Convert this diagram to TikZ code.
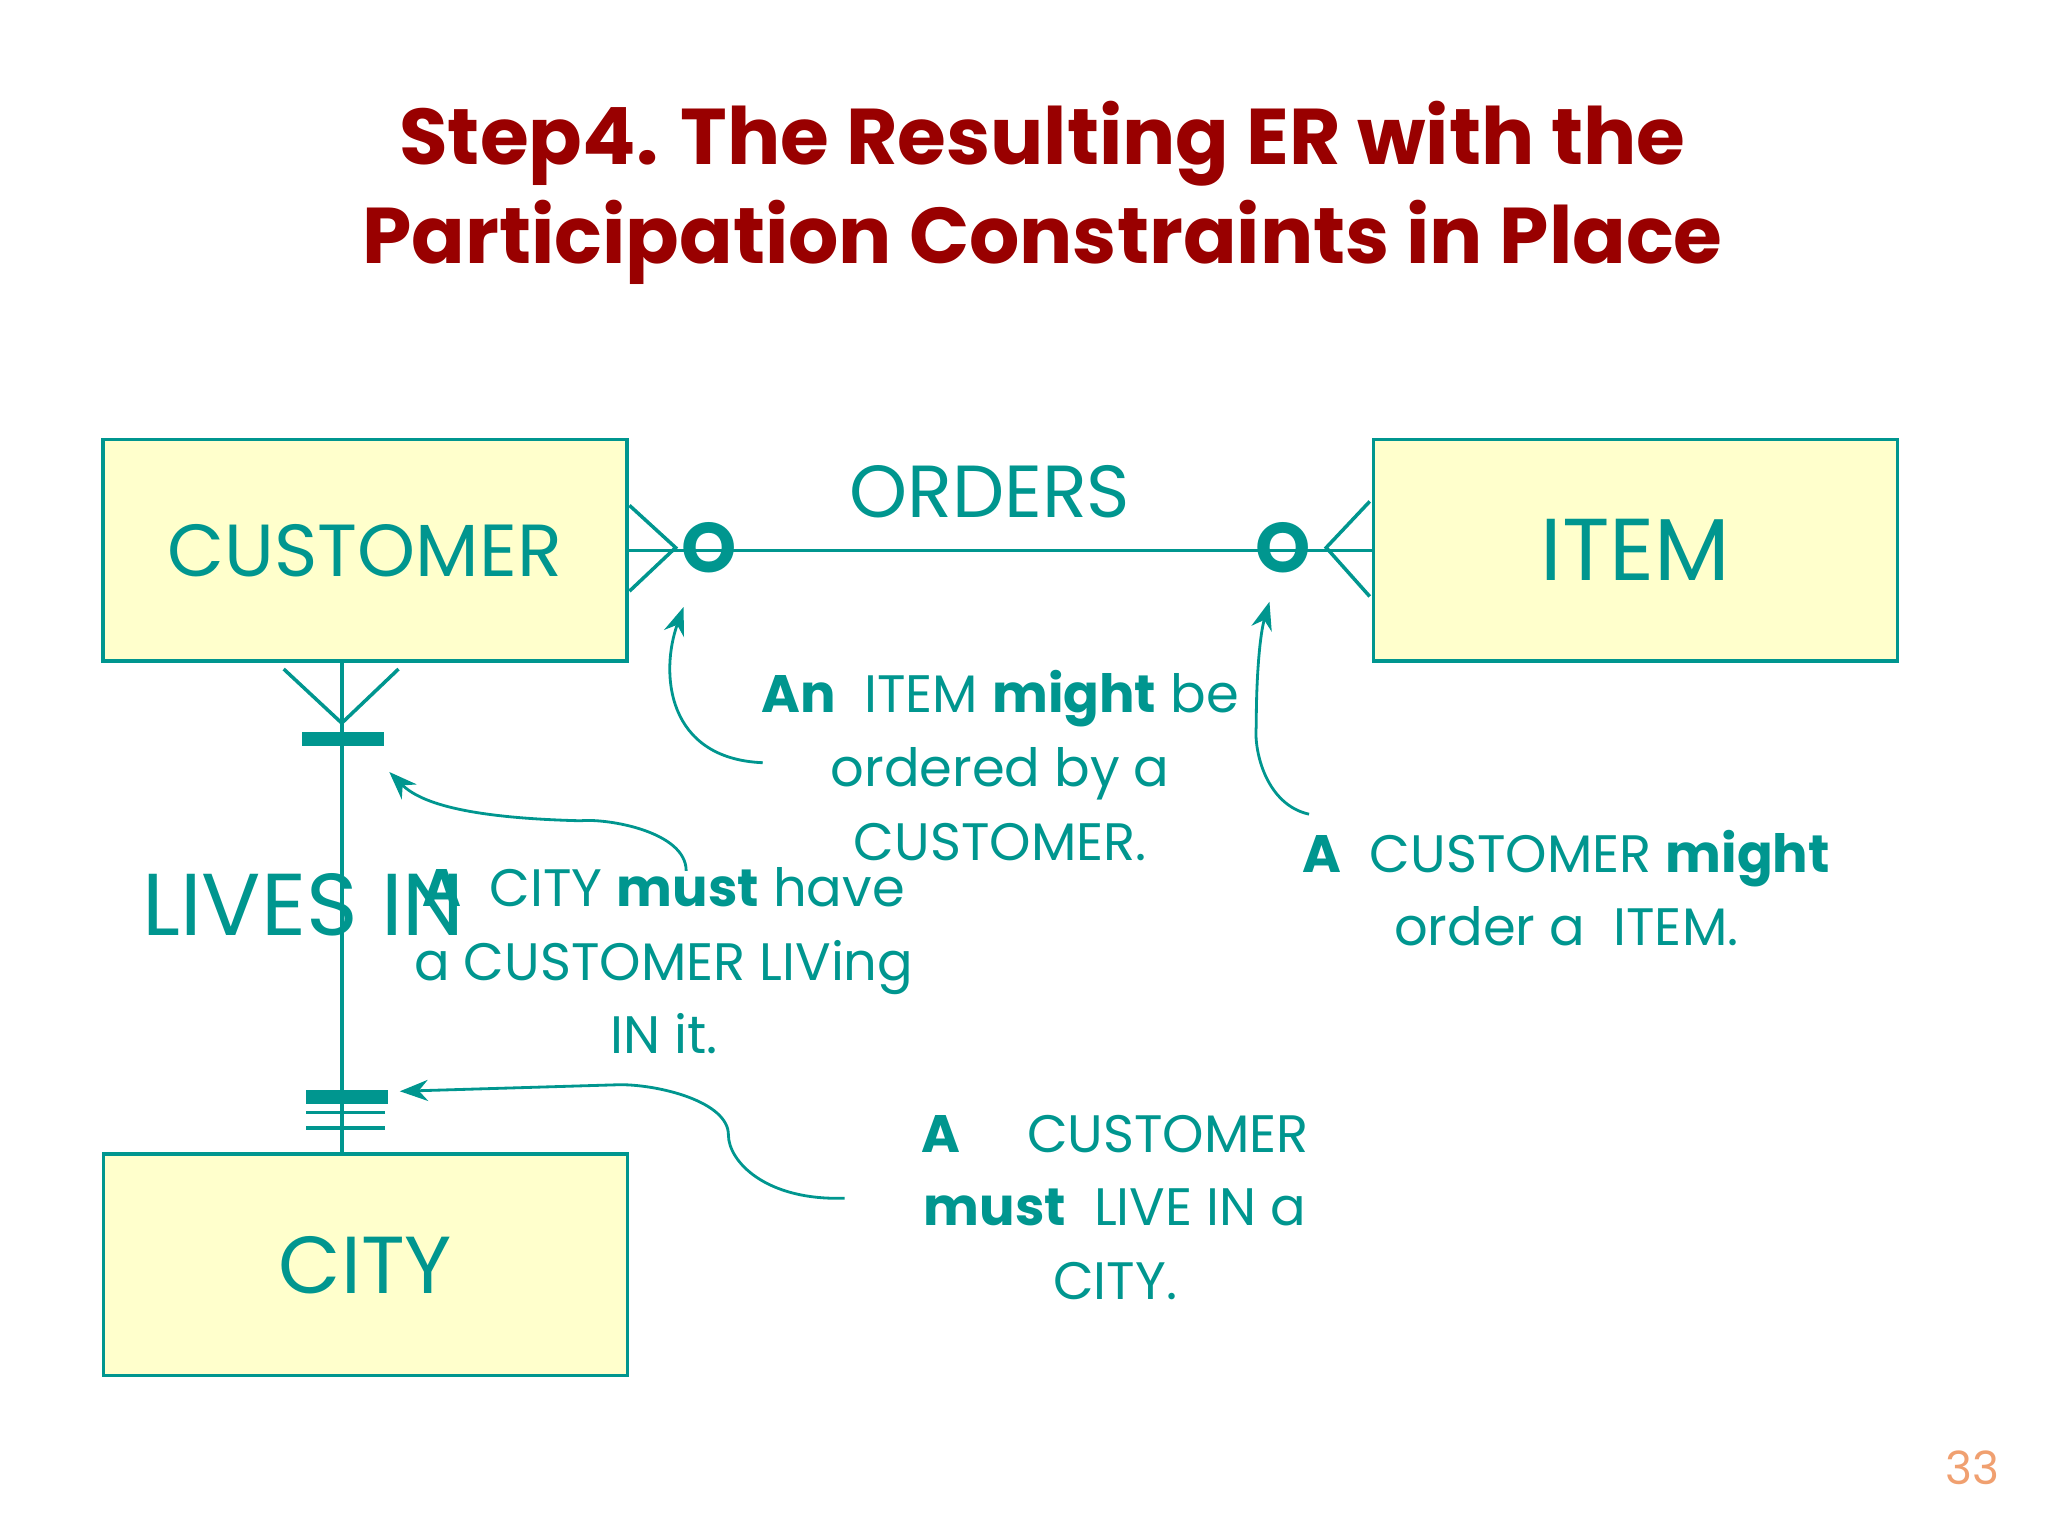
\documentclass[tikz,border=0pt]{standalone}
\usepackage{fontspec}
\setmainfont{Poppins}
\usetikzlibrary{arrows.meta}
\definecolor{tl}{HTML}{00968F}
\definecolor{bx}{HTML}{FFFFCC}
\definecolor{dr}{HTML}{990000}
\definecolor{pg}{HTML}{F0A070}
\begin{document}
\begin{tikzpicture}[x=1.3196cm,y=-1.3196cm,
 ent/.style={draw=tl,fill=bx,line width=1pt,minimum width=3.97*1.3196cm,minimum height=1.68*1.3196cm,text=tl,font=\fontsize{23}{28}\selectfont},
 ln/.style={draw=tl,line width=1pt},
 bar/.style={draw=tl,line width=4pt},
 ann/.style={text=tl,font=\fontsize{15}{21}\selectfont,align=center},
 arr/.style={draw=tl,line width=0.8pt,-{Stealth[length=8pt,width=6pt]}}]
\useasboundingbox (0,0) rectangle (15.52,11.64);
\node[text=dr,font=\bfseries\fontsize{22.5}{28}\selectfont,align=center] (title) at (7.9,1.46) {Step4. The Resulting ER with the\\Participation Constraints in Place};
\node[ent,font=\fontsize{21}{26}\selectfont] (cust) at (2.765,4.17) {CUSTOMER};
\node[ent,font=\fontsize{25}{30}\selectfont] (item) at (12.395,4.17) {ITEM};
\node[ent] (city) at (2.77,9.585) {CITY};
\node[text=tl,font=\fontsize{21}{26}\selectfont] (orders) at (7.5,3.73) {ORDERS};
\coordinate (cf1) at (5.12,4.15);
\coordinate (cf2) at (10.05,4.15);
\draw[ln] (cust.east) -- (item.west);
\draw[ln] (4.77,3.83) -- (cf1) -- (4.77,4.48);
\draw[ln] (10.38,3.80) -- (cf2) -- (10.38,4.52);
\node[text=tl,font=\bfseries\fontsize{20}{24}\selectfont,inner sep=0] (o1) at (5.37,4.15) {O};
\node[text=tl,font=\bfseries\fontsize{20}{24}\selectfont,inner sep=0] (o2) at (9.72,4.15) {O};
\draw[ln] (cust.south -| 2.59,0) -- (city.north -| 2.59,0);
\coordinate (cf3) at (2.59,5.48);
\draw[ln] (2.15,5.07) -- (cf3) -- (3.02,5.07);
\draw[bar] (2.29,5.60) -- (2.91,5.60);
\draw[bar] (2.32,8.31) -- (2.94,8.31);
\draw[ln] (2.32,8.43) -- (2.92,8.43);
\draw[ln] (2.32,8.55) -- (2.92,8.55);
\node[text=tl,font=\fontsize{25}{30}\selectfont] (lives) at (2.30,6.86) {LIVES IN};
\node[ann] (a1) at (7.58,5.80) {\textbf{An} \ ITEM \textbf{might} be\\ordered by a\\CUSTOMER.};
\node[ann] (a2) at (11.87,6.73) {\textbf{A} \ CUSTOMER \textbf{might}\\order a \ ITEM.};
\node[ann] (a3) at (5.03,7.28) {\textbf{A} \ CITY \textbf{must} have\\a CUSTOMER LIVing\\IN it.};
\node[ann] (a4) at (8.45,9.15) {\textbf{A} \quad CUSTOMER\\\textbf{must} \ LIVE IN a\\CITY.};
\coordinate (t1) at (5.18,4.60);
\coordinate (t2) at (9.62,4.56);
\coordinate (t3) at (2.95,5.85);
\coordinate (t4) at (3.03,8.27);
\draw[arr] (5.78,5.78) .. controls (5.05,5.75) and (5.0,5.1) .. (t1);
\draw[arr] (9.92,6.17) .. controls (9.6,6.1) and (9.5,5.7) .. (9.52,5.5) .. controls (9.52,5.1) and (9.55,4.8) .. (t2);
\draw[arr] (5.20,6.60) .. controls (5.20,6.30) and (4.6,6.20) .. (4.40,6.22) .. controls (3.6,6.2) and (3.2,6.1) .. (t3);
\draw[arr] (6.40,9.08) .. controls (5.8,9.1) and (5.52,8.8) .. (5.52,8.6) .. controls (5.52,8.35) and (5.0,8.22) .. (4.70,8.22) -- (t4);
\node[text=pg,font=\fontsize{13}{15}\selectfont] (pn) at (14.95,11.12) {33};
\end{tikzpicture}
\end{document}
